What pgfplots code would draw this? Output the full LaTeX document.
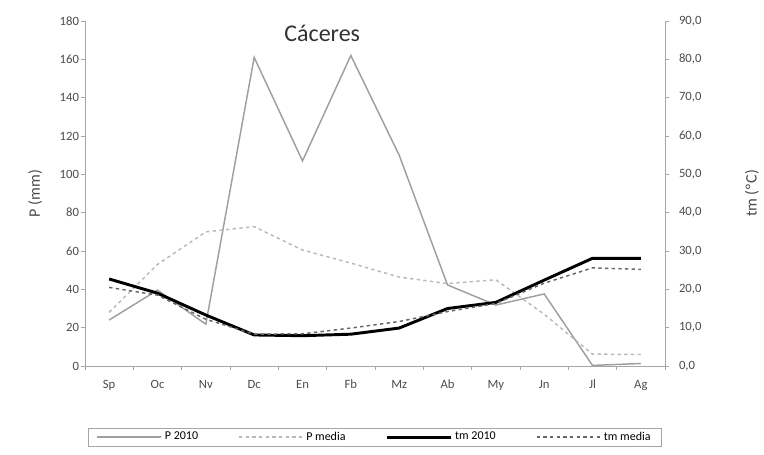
\documentclass[border=0pt]{standalone}
\usepackage{pgfplots}
\pgfplotsset{compat=1.18}
\usepackage{fontspec}
\setmainfont{Carlito}

\definecolor{axgray}{gray}{0.65}
\definecolor{txtgray}{gray}{0.3}

\begin{document}
\begin{tikzpicture}
\pgfplotsset{
  base/.style={
    scale only axis,
    width=435pt, height=258.75pt,
    xmin=-0.5, xmax=11.5,
    /pgf/number format/assume math mode=true,
    tick label style={font=\fontsize{9.5}{11}\selectfont, text=txtgray},
    label style={font=\fontsize{12}{14}\selectfont, text=txtgray},
    axis line style={axgray, line width=0.6pt},
    tick style={axgray, line width=0.6pt},
    tick align=outside,
    major tick length=3pt,
  },
  pdos/.style={gray!75, line width=1.1pt},
  pmed/.style={gray!55, line width=1.1pt, dash pattern=on 2.5pt off 2.5pt},
  tdos/.style={black, line width=2.2pt},
  tmed/.style={gray!80!black, line width=1.1pt, dash pattern=on 2.5pt off 2.5pt},
}
\begin{axis}[base,
  axis y line*=left, axis x line*=bottom,
  ymin=0, ymax=180, ytick={0,20,...,180},
  ylabel={P (mm)},
  ylabel style={at={(axis description cs:-0.086,0.5)}, anchor=center},
  y tick label style={xshift=2pt},
  xtick={0,...,11},
  xticklabels={Sp,Oc,Nv,Dc,En,Fb,Mz,Ab,My,Jn,Jl,Ag},
  major x tick style={draw=none},
  minor xtick={-0.5,0.5,...,11.5},
  minor tick length=3pt,
  x tick label style={yshift=-4pt},
]
% P 2010
\addplot[pdos] coordinates {
  (0,24) (1,39.6) (2,21.8) (3,161) (4,107) (5,162)
  (6,110) (7,42.3) (8,31.8) (9,37.6) (10,0.3) (11,1.3)};
% P media
\addplot[pmed] coordinates {
  (0,28) (1,53) (2,70) (3,72.7) (4,60.5) (5,53.7)
  (6,46.4) (7,43) (8,45) (9,27) (10,6.2) (11,6)};
\coordinate (sw) at (rel axis cs:0,0);
\coordinate (ne) at (rel axis cs:1,1);
\node[font=\fontsize{18}{21}\selectfont, text=black!80] at (rel axis cs:0.409,0.965) {Cáceres};
\end{axis}
\begin{axis}[base,
  axis y line*=right, axis x line=none,
  ymin=0, ymax=90, ytick={0,10,...,90},
  yticklabel style={xshift=4pt, /pgf/number format/.cd, fixed, fixed zerofill, precision=1, use comma},
  ylabel={tm (ºC)},
  ylabel style={at={(axis description cs:1.15,0.5)}, anchor=center},
  legend columns=4,
  legend style={at={(axis description cs:0.5,-0.206)}, anchor=center,
    draw=gray!70, line width=0.5pt, font=\fontsize{9}{10}\selectfont,
    inner xsep=6pt, inner ysep=1pt,
    /tikz/every even column/.append style={column sep=28pt}},
  legend image code/.code={\draw[#1] (0pt,0pt) -- (48pt,0pt);},
]
\addlegendimage{pdos}\addlegendentry{P 2010}
\addlegendimage{pmed}\addlegendentry{P media}
% tm 2010
\addplot[tdos] coordinates {
  (0,22.7) (1,19) (2,13.3) (3,8.1) (4,7.9) (5,8.3)
  (6,9.9) (7,15) (8,16.6) (9,22.4) (10,28.1) (11,28.1)};
\addlegendentry{tm 2010}
% tm media
\addplot[tmed] coordinates {
  (0,20.5) (1,18.5) (2,12.2) (3,8.3) (4,8.4) (5,9.9)
  (6,11.6) (7,14.2) (8,16.3) (9,21.6) (10,25.6) (11,25.2)};
\addlegendentry{tm media}
\end{axis}
\useasboundingbox (sw) ++(-63.75pt,-66pt) rectangle ([shift={(74.25pt,15.75pt)}]ne);
\end{tikzpicture}
\end{document}
